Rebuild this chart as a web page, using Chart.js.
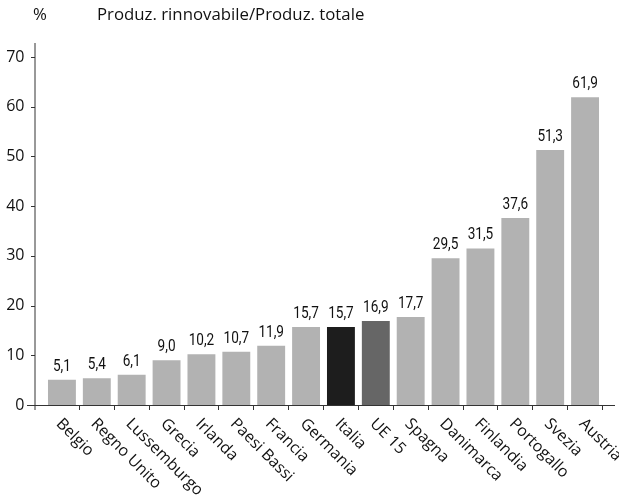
<!DOCTYPE html>
<html>
<head>
<meta charset="utf-8">
<style>
  html, body { margin: 0; padding: 0; background: #ffffff; }
  #wrap { width: 619px; height: 501px; }
</style>
<script src="https://cdn.jsdelivr.net/npm/chart.js@4/dist/chart.umd.min.js"></script>
</head>
<body>
<div id="wrap"><canvas id="c" width="619" height="501"></canvas></div>
<script>
// Quota di produzione rinnovabile sul totale (%)
const paesi = ['Belgio', 'Regno Unito', 'Lussemburgo', 'Grecia', 'Irlanda', 'Paesi Bassi',
  'Francia', 'Germania', 'Italia', 'UE 15', 'Spagna', 'Danimarca', 'Finlandia',
  'Portogallo', 'Svezia', 'Austria'];
const quote = [5.1, 5.4, 6.1, 9.0, 10.2, 10.7, 11.9, 15.7, 15.7, 16.9, 17.7, 29.5, 31.5, 37.6, 51.3, 61.9];
const yTicks = [0, 10, 20, 30, 40, 50, 60, 70];
const titoloUnita = '%';
const titolo = 'Produz. rinnovabile/Produz. totale';

const GRIGIO = '#b2b2b2';
const coloriBarre = paesi.map(p => p === 'Italia' ? '#1d1d1d' : (p === 'UE 15' ? '#666666' : GRIGIO));
const AXIS = '#333333';
const TEXT = '#111111';
const FONT = "'Open Sans', 'Noto Sans', sans-serif";
const FONT_VAL = "Roboto, 'Noto Sans', sans-serif";

const decorazioni = {
  id: 'decorazioni',
  afterDraw(chart) {
    const ctx = chart.ctx;
    const x = chart.scales.x, y = chart.scales.y;
    const area = chart.chartArea;
    const axisX = area.left - 9.5;
    ctx.save();
    // assi
    ctx.strokeStyle = AXIS;
    ctx.lineWidth = 1;
    ctx.beginPath();
    ctx.moveTo(axisX, area.top - 14);
    ctx.lineTo(axisX, area.bottom + 5);
    ctx.moveTo(axisX - 8, area.bottom + 0.5);
    ctx.lineTo(area.right + 12.5, area.bottom + 0.5);
    yTicks.forEach(v => {
      const py = Math.round(y.getPixelForValue(v)) + 0.5;
      ctx.moveTo(axisX - 4, py);
      ctx.lineTo(axisX, py);
    });
    ctx.stroke();

    // titolo
    ctx.fillStyle = TEXT;
    ctx.font = '16.8px ' + FONT;
    ctx.textAlign = 'left';
    ctx.textBaseline = 'alphabetic';
    ctx.fillText(titoloUnita, 33, 20);
    ctx.fillText(titolo, 97, 20);

    // valori sopra le barre (carattere stretto)
    ctx.font = '16px ' + FONT_VAL;
    ctx.textAlign = 'center';
    quote.forEach((v, i) => {
      const px = x.getPixelForValue(i);
      const py = y.getPixelForValue(v);
      ctx.save();
      ctx.translate(px, py - 9);
      ctx.scale(0.85, 1);
      ctx.fillText(v.toFixed(1).replace('.', ','), 0, 0);
      ctx.restore();
    });

    // etichette dei paesi, inclinate
    ctx.font = '16px ' + FONT;
    ctx.textAlign = 'left';
    paesi.forEach((p, i) => {
      const px = x.getPixelForValue(i);
      ctx.save();
      ctx.translate(px - 6.5, area.bottom + 19.5);
      ctx.rotate(Math.PI / 4);
      ctx.fillText(p, 0, 0);
      ctx.restore();
    });
    ctx.restore();
  }
};

new Chart(document.getElementById('c'), {
  type: 'bar',
  data: {
    labels: paesi,
    datasets: [{
      data: quote,
      backgroundColor: coloriBarre,
      borderWidth: 0,
      categoryPercentage: 1.0,
      barPercentage: 0.8
    }]
  },
  options: {
    responsive: false,
    animation: false,
    devicePixelRatio: 1,
    layout: { padding: { top: 57, right: 16.5, bottom: 0, left: 0 } },
    plugins: { legend: { display: false }, tooltip: { enabled: false }, title: { display: false } },
    scales: {
      x: {
        type: 'category',
        offset: true,
        border: { display: false },
        grid: {
          offset: true,
          drawOnChartArea: false,
          drawTicks: true,
          tickLength: 5,
          color: ctx => ctx.index === 0 ? 'rgba(0,0,0,0)' : AXIS
        },
        ticks: { display: false },
        afterFit: s => { s.height = 96; }
      },
      y: {
        min: 0,
        max: 70,
        border: { display: false },
        grid: { display: false, drawTicks: false },
        afterBuildTicks: s => { s.ticks = yTicks.map(v => ({ value: v })); },
        ticks: {
          padding: 20,
          color: TEXT,
          font: { family: FONT, size: 16 },
          callback: v => String(v)
        },
        afterFit: s => { s.width = 44.5; }
      }
    }
  },
  plugins: [decorazioni]
});
</script>
</body>
</html>
